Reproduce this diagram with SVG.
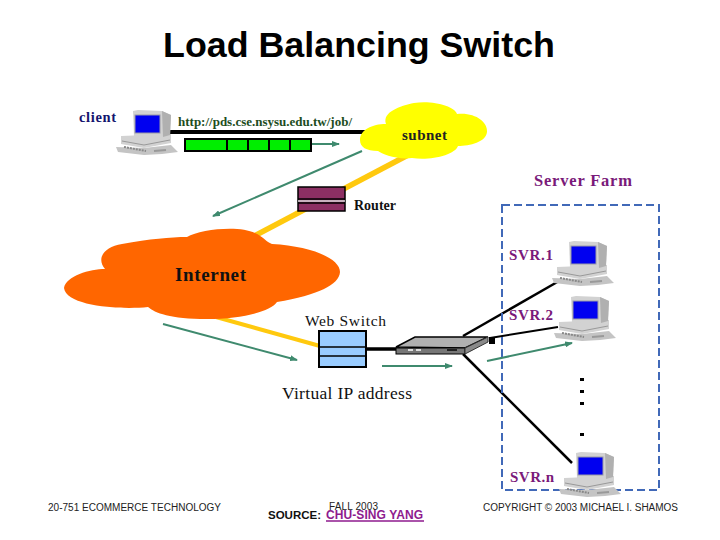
<svg xmlns="http://www.w3.org/2000/svg" xmlns:xlink="http://www.w3.org/1999/xlink" width="720" height="540" viewBox="0 0 720 540">
<style>
.s{font-family:"Liberation Serif","Times New Roman",serif}
.a{font-family:"Liberation Sans",Arial,sans-serif}
.b{font-weight:bold}
.f{font-size:10px;fill:#222}
.t{fill:#7a1a7a;font-size:15px;font-weight:bold}
.g{stroke:#3f8a6e;stroke-width:2;fill:none;marker-end:url(#ah)}
.k{stroke:#000;fill:none}
.y{stroke:#ffc90e;fill:none}
</style>
<defs>
<marker id="ah" markerUnits="userSpaceOnUse" markerWidth="8" markerHeight="6" refX="7" refY="3" orient="auto"><path d="M0 0L8 3L0 6Z" fill="#3f8a6e"/></marker>
<g id="pc">
<path d="M-16 37L-14 42L12 45L30 44L46 42L39 35L12 38Z" fill="#c4c4c4"/>
<path d="M-11 26L39 24L39 33L12 38L-11 34Z" fill="#d2d2d2"/>
<path d="M-10 31L12 35L38 30" fill="none" stroke="#999"/>
<path d="M-8 37L14 41" fill="none" stroke="#888" stroke-width="2" stroke-dasharray="2 1"/>
<path d="M22 41L34 40" fill="none" stroke="#999" stroke-width="2"/>
<path d="M1 1L6 0L30 1L39 5L38 25L28 27L2 26Z" fill="#d2d2d2"/>
<path d="M30 1L39 5L38 25L31 27Z" fill="#b0b0b0"/>
<rect x="3" y="5" width="25" height="18" fill="#0000f0" stroke="#9a9aa5"/>
</g>
</defs>
<rect width="720" height="540" fill="#fff"/>
<text class="a b" x="163" y="57" font-size="35.500" textLength="392" lengthAdjust="spacingAndGlyphs" fill="#000">Load Balancing Switch</text>
<g id="connectors">
<path class="y" stroke-width="5.500" d="M410 154L239 244"/>
<path class="y" stroke-width="4" d="M216 317L320 346"/>
<path class="k" stroke-width="4" d="M166 132H368"/>
<path class="k" stroke-width="3.500" d="M366 349H400"/>
<path class="k" stroke-width="2.500" d="M463 336L559 281"/>
<path class="k" stroke-width="2" d="M490 338L558 327"/>
<path class="k" stroke-width="2.500" d="M463 354L572 463"/>
<path class="g" d="M310 144H339"/>
<path class="g" d="M362 151L213 216"/>
<path class="g" d="M163 324L297 360"/>
<path class="g" d="M382 366H452"/>
<path class="g" d="M487 361L572 343"/>
</g>
<g id="subnet">
<path fill="#ffff00" d="M360 140C360 130 372 124 386 124C382 112 400 106 414 103C432 100 455 106 457 114C475 112 488 122 487 132C486 142 470 146 458 146C455 155 430 161 412 158C397 160 382 154 378 151C366 151 360 147 360 140Z"/>
<text class="s b" x="402" y="140" font-size="15" textLength="45" fill="#222">subnet</text>
</g>
<g id="internet">
<path fill="#ff6600" d="M64 288C66 276 90 269 105 269C96 258 104 247 122 244C150 239 170 237 187 237C200 229 240 225 255 233C264 237 266 242 272 244C310 246 340 258 340 272C339 285 318 295 277 302C270 312 240 319 207 319C170 319 155 313 148 307C120 310 66 306 64 288Z"/>
<text class="s b" x="175" y="281" font-size="19" textLength="71" fill="#111">Internet</text>
</g>
<g id="client">
<use xlink:href="#pc" href="#pc" x="132" y="110"/>
<text class="s b" x="79" y="122" font-size="14.500" textLength="37" fill="#14146e">client</text>
</g>
<g id="url">
<text class="s b" x="178" y="126" font-size="13.500" textLength="174" lengthAdjust="spacingAndGlyphs" fill="#1d4d1d">http://pds.cse.nsysu.edu.tw/job/</text>
</g>
<g id="packets" fill="#00ee00" stroke="#000" stroke-width="2">
<rect x="185" y="139" width="42" height="12"/>
<rect x="227" y="139" width="21" height="12"/>
<rect x="248" y="139" width="21" height="12"/>
<rect x="269" y="139" width="21" height="12"/>
<rect x="290" y="139" width="21" height="12"/>
</g>
<g id="router">
<rect x="298" y="187" width="47" height="24" fill="#8c2f63" stroke="#000" stroke-width="1.500"/>
<path d="M298 199H345M298 203H345" stroke="#000" stroke-width="1.500"/>
<path d="M298 201H345" stroke="#ddd" stroke-width="1.500"/>
<text class="s b" x="354" y="210" font-size="14" textLength="42" fill="#111">Router</text>
</g>
<g id="webswitch">
<rect x="319" y="331" width="47" height="36" fill="#99ccff" stroke="#000" stroke-width="2"/>
<path d="M319 347H366M319 356H366" stroke="#000" stroke-width="1.500"/>
<text class="s" x="305" y="326" font-size="15.500" textLength="81" fill="#111">Web Switch</text>
<text class="s" x="282" y="399" font-size="17.500" textLength="130" fill="#111">Virtual IP address</text>
</g>
<g id="lbswitch">
<path d="M396 347L415 337H488L465 348Z" fill="#b0b0b0" stroke="#000" stroke-width="1.500"/>
<rect x="396" y="348" width="69" height="6" fill="#777" stroke="#000"/>
<path d="M465 348L488 337V342L465 354Z" fill="#8a8a8a" stroke="#333"/>
<rect x="489" y="337" width="6" height="7" fill="#000"/>
<path d="M408 350h5M416 350h5" stroke="#ddd" stroke-width="2"/>
<path d="M447 350h10" stroke="#222" stroke-width="2"/>
</g>
<g id="farm">
<rect x="502" y="205" width="157" height="285" fill="none" stroke="#4169b8" stroke-width="2" stroke-dasharray="8 4"/>
<text class="s b" x="534" y="186" font-size="16.500" textLength="98" fill="#7a1a7a" stroke="none">Server Farm</text>
</g>
<g id="svr1"><use xlink:href="#pc" href="#pc" x="568" y="241"/><text class="s t" x="509" y="260" textLength="44">SVR.1</text></g>
<g id="svr2"><use xlink:href="#pc" href="#pc" x="570" y="296"/><text class="s t" x="509" y="320" textLength="44">SVR.2</text></g>
<g id="svrn"><use xlink:href="#pc" href="#pc" x="575" y="452"/><text class="s t" x="510" y="482" textLength="44">SVR.n</text></g>
<g id="dots" fill="#000">
<rect x="580" y="378" width="4" height="3"/>
<rect x="580" y="390" width="4" height="3"/>
<rect x="580" y="402" width="4" height="3"/>
<rect x="580" y="433" width="4" height="3"/>
</g>
<g id="footer">
<text class="a f" x="48" y="511" textLength="173">20-751 ECOMMERCE TECHNOLOGY</text>
<text class="a f" x="329" y="510" textLength="49">FALL 2003</text>
<text class="a b" x="268" y="519" font-size="11.500" textLength="53" fill="#111">SOURCE:</text>
<text class="a b" x="326" y="519" font-size="12" textLength="97" fill="#8e1a8e">CHU-SING YANG</text>
<path d="M326 521H424" stroke="#8e1a8e" stroke-width="1.500"/>
<text class="a f" x="483" y="511" textLength="195">COPYRIGHT © 2003 MICHAEL I. SHAMOS</text>
</g>
</svg>
